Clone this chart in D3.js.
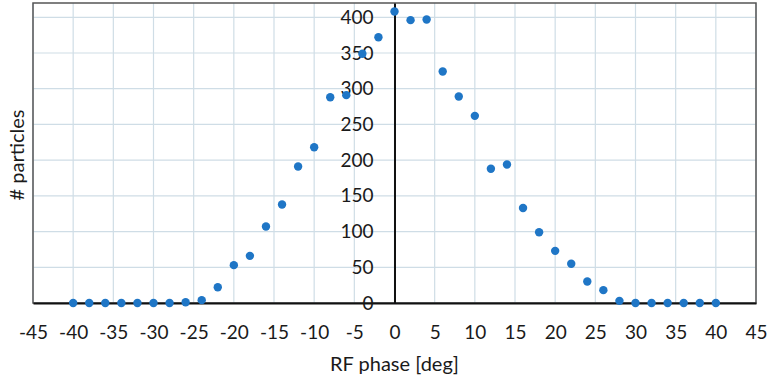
<!DOCTYPE html>
<html>
<head>
<meta charset="utf-8">
<script src="https://cdn.jsdelivr.net/npm/d3@7"></script>
<style>
  body { margin: 0; background: #fff; }
  text { font-family: Lato, "Open Sans", sans-serif; fill: #1a1a1a; }
</style>
</head>
<body>
<div id="chart"></div>
<script>
// RF phase (deg) and number of particles
var phase = [-40, -38, -36, -34, -32, -30, -28, -26, -24, -22, -20, -18, -16, -14, -12, -10, -8, -6, -4, -2,
             0, 2, 4, 6, 8, 10, 12, 14, 16, 18, 20, 22, 24, 26, 28, 30, 32, 34, 36, 38, 40];
var particles = [0, 0, 0, 0, 0, 0, 0, 1, 4, 22, 53, 66, 107, 138, 191, 218, 288, 291, 349, 372,
                 408, 396, 397, 324, 289, 262, 188, 194, 133, 99, 73, 55, 30, 18, 3, 0, 0, 0, 0, 0, 0];
var xTicks = [-45, -40, -35, -30, -25, -20, -15, -10, -5, 0, 5, 10, 15, 20, 25, 30, 35, 40, 45];
var yTicks = [0, 50, 100, 150, 200, 250, 300, 350, 400];

var W = 768, H = 379;
var margin = {top: 3, right: 12, bottom: 76, left: 33},
    width = W - margin.left - margin.right,
    height = H - margin.top - margin.bottom;

var svg = d3.select("#chart")
  .append("svg")
    .attr("width", W)
    .attr("height", H)
  .append("g")
    .attr("transform", "translate(" + margin.left + "," + margin.top + ")");

var x = d3.scaleLinear().domain([-45, 45]).range([0, width]);
var y = d3.scaleLinear().domain([0, 420]).range([height, 0]);

// grid
svg.append("g")
  .selectAll("line")
  .data(xTicks)
  .enter().append("line")
    .attr("x1", d => x(d)).attr("x2", d => x(d))
    .attr("y1", 0).attr("y2", height)
    .style("stroke", "#cfdde6").style("stroke-width", 1.2);
svg.append("g")
  .selectAll("line")
  .data(yTicks)
  .enter().append("line")
    .attr("x1", 0).attr("x2", width)
    .attr("y1", d => y(d)).attr("y2", d => y(d))
    .style("stroke", "#cfdde6").style("stroke-width", 1.2);

// frame
svg.append("rect")
  .attr("x", 0).attr("y", 0)
  .attr("width", width).attr("height", height)
  .style("fill", "none").style("stroke", "#555").style("stroke-width", 1.5);

// bottom axis (plain hyphen for negatives, like the original)
var xAxis = svg.append("g")
  .attr("transform", "translate(0," + height + ")")
  .call(d3.axisBottom(x).tickValues(xTicks).tickFormat(d => String(d)).tickSize(0).tickPadding(23));
xAxis.select(".domain").style("stroke", "#111").style("stroke-width", 2);
xAxis.selectAll("text")
  .style("font-size", "19px")
  .style("font-family", "Lato, sans-serif")
  .style("fill", "#1a1a1a");

// vertical axis at phase 0
var yAxis = svg.append("g")
  .attr("transform", "translate(" + x(0) + ",0)")
  .call(d3.axisLeft(y).tickValues(yTicks).tickSize(0).tickPadding(21));
yAxis.select(".domain").style("stroke", "#111").style("stroke-width", 2);
yAxis.selectAll("text")
  .style("font-size", "19px")
  .style("font-family", "Lato, sans-serif")
  .style("fill", "#1a1a1a");

// points
svg.append("g")
  .selectAll("circle")
  .data(phase)
  .enter()
  .append("circle")
    .attr("cx", d => x(d))
    .attr("cy", (d, i) => y(particles[i]))
    .attr("r", 4.2)
    .style("fill", "#1f76c6");

// axis titles
svg.append("text")
  .attr("x", x(0))
  .attr("y", height + 68)
  .attr("text-anchor", "middle")
  .style("font-size", "20px")
  .text("RF phase [deg]");

svg.append("text")
  .attr("transform", "translate(" + (-9) + "," + (height / 2 + 2) + ") rotate(-90)")
  .attr("text-anchor", "middle")
  .style("font-size", "20px")
  .text("# particles");
</script>
</body>
</html>
